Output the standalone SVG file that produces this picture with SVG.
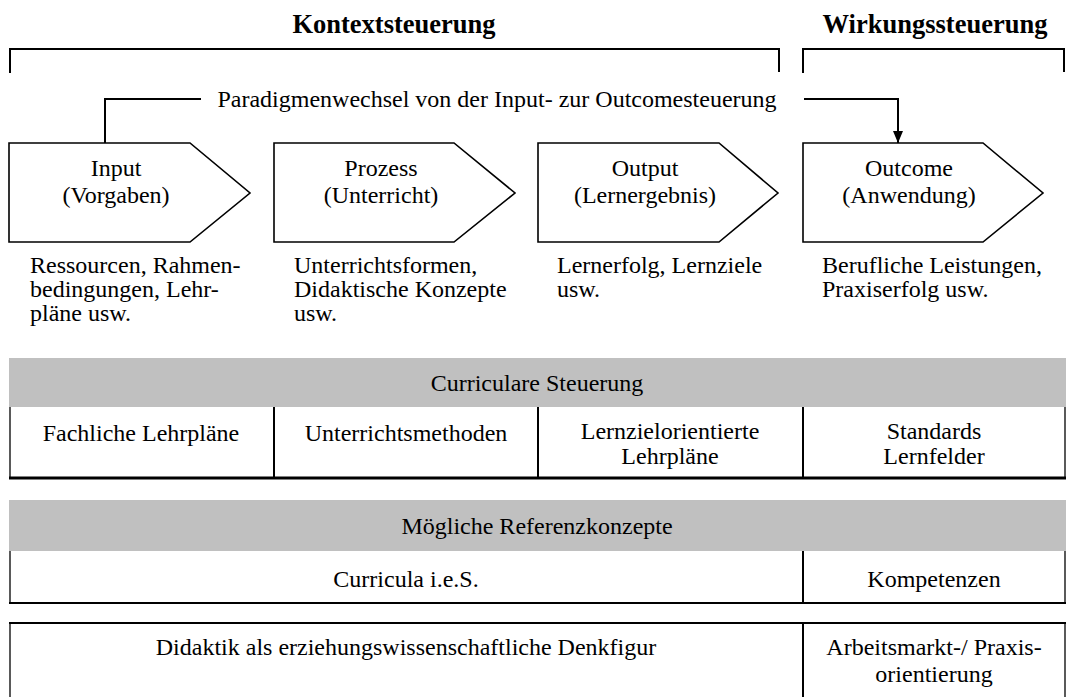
<svg xmlns="http://www.w3.org/2000/svg" width="1066" height="697" viewBox="0 0 1066 697">
  <style>
    text { font-family: "Liberation Serif", "Times New Roman", serif; fill: #000; }
    .title { font-size: 26.5px; font-weight: bold; text-anchor: middle; }
    .body { font-size: 24px; }
    .mid { text-anchor: middle; }
    .bracket { fill: none; stroke: #000; stroke-width: 2; }
    .stage { fill: #fff; stroke: #000; stroke-width: 1.6; stroke-linejoin: miter; }
    .band { fill: #c0c0c0; }
    .cell { fill: #fff; }
    .rule { stroke: #000; stroke-width: 2; fill: none; }
    .heavy { stroke: #000; stroke-width: 3; fill: none; }
    .thin { stroke: #000; stroke-width: 1.3; fill: none; }
    .link { stroke: #000; stroke-width: 2; fill: none; }
  </style>
  <defs>
    <marker id="arrow" viewBox="0 0 12 10" refX="12" refY="5" markerWidth="12" markerHeight="10" markerUnits="userSpaceOnUse" orient="auto">
      <path d="M0,0 L12,5 L0,10 Z" fill="#000"/>
    </marker>
  </defs>

  <!-- headings with their brackets -->
  <g id="kontextsteuerung">
    <text class="title" x="394" y="33">Kontextsteuerung</text>
    <path class="bracket" d="M10,73 V49 H779 V72"/>
  </g>
  <g id="wirkungssteuerung">
    <text class="title" x="935" y="33">Wirkungssteuerung</text>
    <path class="bracket" d="M803,73 V49 H1064 V72"/>
  </g>

  <!-- paradigm shift connector -->
  <g id="connectors">
    <path class="link" d="M105,143 V99 H201"/>
    <path class="link" d="M804,99 H898 V143" marker-end="url(#arrow)"/>
    <text class="body mid" x="497" y="107">Paradigmenwechsel von der Input- zur Outcomesteuerung</text>
  </g>

  <!-- process stages -->
  <g id="input">
    <path class="stage" d="M9,143 H190 L250,193 L190,242 H9 Z"/>
    <text class="body mid" x="116" y="176">Input</text>
    <text class="body mid" x="116" y="203">(Vorgaben)</text>
    <text class="body" x="30" y="273">Ressourcen, Rahmen-</text>
    <text class="body" x="30" y="297">bedingungen, Lehr-</text>
    <text class="body" x="30" y="321">pläne usw.</text>
  </g>
  <g id="prozess">
    <path class="stage" d="M274,143 H454 L515,193 L454,242 H274 Z"/>
    <text class="body mid" x="381" y="176">Prozess</text>
    <text class="body mid" x="381" y="203">(Unterricht)</text>
    <text class="body" x="294" y="273">Unterrichtsformen,</text>
    <text class="body" x="294" y="297">Didaktische Konzepte</text>
    <text class="body" x="294" y="321">usw.</text>
  </g>
  <g id="output">
    <path class="stage" d="M538,143 H719 L778,193 L719,242 H538 Z"/>
    <text class="body mid" x="645" y="176">Output</text>
    <text class="body mid" x="645" y="203">(Lernergebnis)</text>
    <text class="body" x="557" y="273">Lernerfolg, Lernziele</text>
    <text class="body" x="557" y="297">usw.</text>
  </g>
  <g id="outcome">
    <path class="stage" d="M803,143 H983 L1043,193 L983,242 H803 Z"/>
    <text class="body mid" x="909" y="176">Outcome</text>
    <text class="body mid" x="909" y="203">(Anwendung)</text>
    <text class="body" x="822" y="273">Berufliche Leistungen,</text>
    <text class="body" x="822" y="297">Praxiserfolg usw.</text>
  </g>

  <!-- table: curricular steering -->
  <g id="curriculare-steuerung">
    <rect class="band" x="9" y="358" width="1057" height="49"/>
    <text class="body mid" x="537" y="391">Curriculare Steuerung</text>
    <rect class="cell" x="9" y="407" width="1056" height="71"/>
    <line class="thin" x1="10" y1="407" x2="10" y2="478"/>
    <line class="rule" x1="274" y1="407" x2="274" y2="478"/>
    <line class="rule" x1="538" y1="407" x2="538" y2="478"/>
    <line class="rule" x1="803" y1="407" x2="803" y2="478"/>
    <line class="thin" x1="1065" y1="407" x2="1065" y2="478"/>
    <line class="heavy" x1="9" y1="478" x2="1066" y2="478"/>
    <text class="body mid" x="141" y="441">Fachliche Lehrpläne</text>
    <text class="body mid" x="406" y="441">Unterrichtsmethoden</text>
    <text class="body mid" x="670" y="439">Lernzielorientierte</text>
    <text class="body mid" x="670" y="464">Lehrpläne</text>
    <text class="body mid" x="934" y="439">Standards</text>
    <text class="body mid" x="934" y="464">Lernfelder</text>
  </g>

  <!-- table: possible reference concepts -->
  <g id="referenzkonzepte">
    <rect class="band" x="9" y="500" width="1057" height="51"/>
    <text class="body mid" x="537" y="534">Mögliche Referenzkonzepte</text>
    <line class="thin" x1="10" y1="551" x2="10" y2="603"/>
    <line class="rule" x1="803" y1="551" x2="803" y2="603"/>
    <line class="thin" x1="1065" y1="551" x2="1065" y2="603"/>
    <line class="rule" x1="9" y1="603" x2="1066" y2="603"/>
    <text class="body mid" x="406" y="587">Curricula i.e.S.</text>
    <text class="body mid" x="934" y="587">Kompetenzen</text>
  </g>

  <!-- table: didactic foundation -->
  <g id="denkfigur">
    <path class="thin" d="M10,697 V623"/>
    <line class="rule" x1="9" y1="623" x2="1066" y2="623"/>
    <line class="rule" x1="803" y1="623" x2="803" y2="697"/>
    <line class="thin" x1="1065" y1="623" x2="1065" y2="697"/>
    <text class="body mid" x="406" y="655">Didaktik als erziehungswissenschaftliche Denkfigur</text>
    <text class="body mid" x="934" y="655">Arbeitsmarkt-/ Praxis-</text>
    <text class="body mid" x="934" y="682">orientierung</text>
  </g>
</svg>
